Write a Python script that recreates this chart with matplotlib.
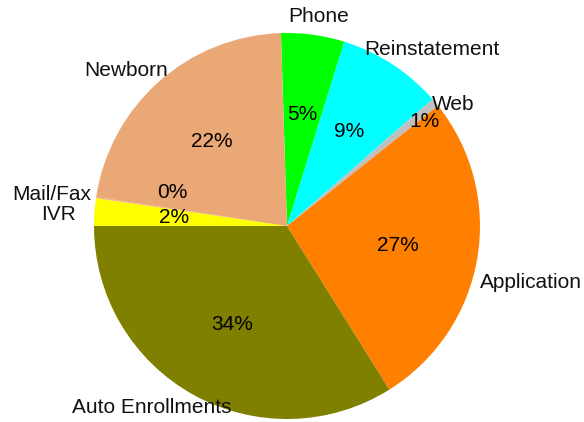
import matplotlib
matplotlib.use("Agg")
import matplotlib.pyplot as plt

categories = ["Phone", "Reinstatement", "Web", "Application",
              "Auto Enrollments", "IVR", "Mail/Fax", "Newborn"]
values = [5.3, 8.8, 0.7, 26.8, 33.9, 2.3, 0.1, 22.1]
colors = ["#00FF00", "#00FFFF", "#C0C0C0", "#FF8000",
          "#808000", "#FFFF00", "#EFB07A", "#EAA877"]

plt.rcParams['font.family'] = ['Liberation Sans', 'DejaVu Sans']
FS = 15

fig = plt.figure(figsize=(5.84, 4.22), dpi=100)
ax = fig.add_axes([0, 0, 1, 1])

wedges, texts, autotexts = ax.pie(
    values, colors=colors, startangle=91.8, counterclock=False,
    autopct='%1.0f%%', pctdistance=0.585, radius=1.0,
    wedgeprops=dict(linewidth=0), textprops=dict(fontsize=FS, color='black'))

# move crowded percentage labels
pct_pos = {"Web": (0.715, 0.539), "Mail/Fax": (-0.596, 0.171)}
for name, t in zip(categories, autotexts):
    if name in pct_pos:
        t.set_position(pct_pos[name])

# outer category labels (position, horizontal alignment)
label_pos = {
    "Phone": ((0.005, 1.083), 'left'),
    "Reinstatement": ((0.399, 0.912), 'left'),
    "Web": ((0.751, 0.632), 'left'),
    "Application": ((1.0, -0.295), 'left'),
    "Auto Enrollments": ((-0.285, -0.943), 'right'),
    "Mail/Fax": ((-1.016, 0.161), 'right'),
    "IVR": ((-1.093, 0.062), 'right'),
    "Newborn": ((-0.617, 0.808), 'right'),
}
for name in categories:
    (x, y), ha = label_pos[name]
    ax.text(x, y, name, ha=ha, va='center', fontsize=FS, color='#111111')

ax.set_xlim(-287 / 193, (584 - 287) / 193)
ax.set_ylim(-(422 - 226) / 193, 226 / 193)
ax.set_aspect('equal')
ax.axis('off')

fig.savefig("out.png", dpi=100)
